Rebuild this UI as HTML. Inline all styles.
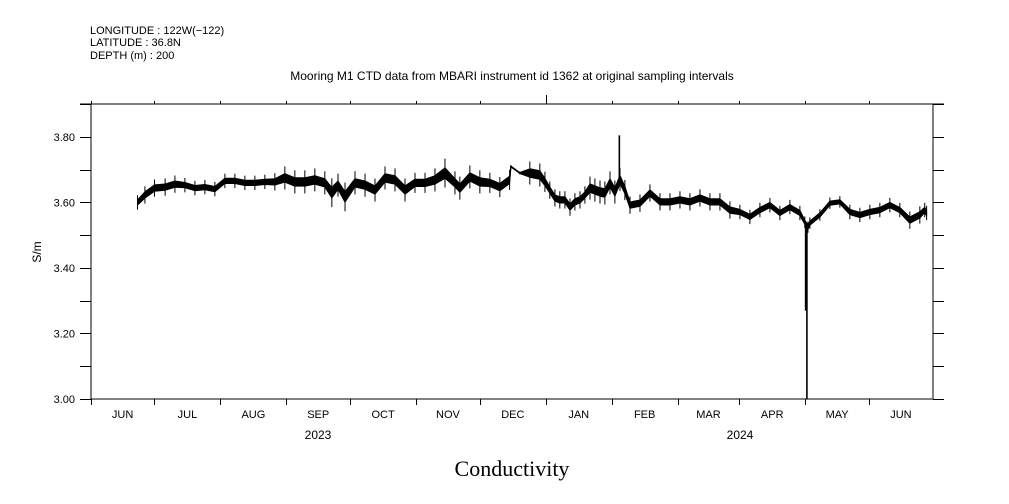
<!DOCTYPE html>
<html><head><meta charset="utf-8"><style>
html,body{margin:0;padding:0;background:#fff}
svg{display:block}
text{font-family:"Liberation Sans",sans-serif;fill:#000}
</style></head><body>
<svg id="chart" width="1009" height="504" xmlns="http://www.w3.org/2000/svg">
<g font-size="11">
<text x="90" y="34">LONGITUDE : 122W(−122)</text>
<text x="90" y="46">LATITUDE : 36.8N</text>
<text x="90" y="59">DEPTH (m) : 200</text>
</g>
<text x="512" y="80" font-size="12" text-anchor="middle">Mooring M1 CTD data from MBARI instrument id 1362 at original sampling intervals</text>
<text x="0" y="0" font-size="12" text-anchor="middle" transform="translate(41,252) rotate(-90)">S/m</text>
<text x="512" y="476" font-size="22" text-anchor="middle" style="font-family:'Liberation Serif',serif">Conductivity</text>
<g id="axes"></g>
<g id="series"></g>
</svg>
<script>
// Data: days since 2023-06-01, conductivity centre value, noise half-range
const days = [22,25.5,30,35,39.6,44.3,49,53.7,58.4,63.1,67.8,72.5,77.2,81.9,86.6,91.3,96,100.7,105.4,110.1,113.4,116.3,119.6,124.3,129,133.7,138.4,143.1,147.8,152.5,157.2,161.9,166.6,171.3,173.6,178.3,183,187.7,192.4,197,197.6,201.8,206.5,211.2,213.6,215.9,218.3,220.6,223,225.4,227.7,230.1,232.4,234.8,237.1,239.5,241.8,244.2,246.5,248.9,251.2,253.6,258.3,263,267.7,272.4,277.1,281.8,286.5,291.2,295.9,300.6,305.3,310,314.7,319.4,324.1,328.8,333.5,335.8,337.3,338.2,342.9,347.6,352.3,357,361.7,366.4,371.1,375.8,380.5,385.2,389.9,392.2,393.1];
const values = [3.600,3.623,3.644,3.647,3.656,3.653,3.644,3.647,3.641,3.666,3.666,3.660,3.660,3.663,3.663,3.675,3.663,3.663,3.669,3.660,3.630,3.653,3.617,3.660,3.653,3.638,3.675,3.669,3.638,3.660,3.660,3.669,3.690,3.660,3.644,3.678,3.663,3.660,3.647,3.669,3.710,3.690,3.690,3.684,3.663,3.638,3.614,3.608,3.608,3.586,3.602,3.608,3.623,3.644,3.638,3.632,3.629,3.660,3.632,3.670,3.638,3.592,3.598,3.629,3.602,3.602,3.608,3.602,3.614,3.602,3.602,3.577,3.571,3.556,3.577,3.592,3.568,3.586,3.568,3.540,3.525,3.537,3.562,3.598,3.602,3.571,3.562,3.571,3.577,3.592,3.577,3.546,3.562,3.577,3.568];
const noise = [0.010,0.012,0.012,0.012,0.012,0.010,0.010,0.010,0.010,0.010,0.010,0.010,0.010,0.010,0.012,0.016,0.016,0.016,0.016,0.016,0.020,0.016,0.020,0.016,0.016,0.016,0.016,0.016,0.016,0.014,0.014,0.016,0.020,0.016,0.016,0.016,0.016,0.014,0.014,0.014,0.002,0.002,0.016,0.016,0.014,0.012,0.012,0.012,0.012,0.012,0.012,0.012,0.012,0.016,0.016,0.016,0.016,0.016,0.016,0.016,0.014,0.012,0.012,0.012,0.012,0.012,0.012,0.012,0.012,0.012,0.012,0.012,0.010,0.010,0.010,0.010,0.010,0.010,0.010,0.008,0.008,0.008,0.008,0.008,0.008,0.010,0.010,0.010,0.010,0.010,0.010,0.012,0.012,0.010,0.010];
// isolated spikes
const spikeDays = [248.6, 336.2, 336.8];
const spikeFrom = [3.660, 3.540, 3.530];
const spikeTo = [3.805, 3.270, 3.000];
// axes
const yTicks = [3.0,3.1,3.2,3.3,3.4,3.5,3.6,3.7,3.8,3.9];
const yLabels = ["3.00","3.20","3.40","3.60","3.80"];
const monthStartDays = [0,30,61,92,122,153,183,214,245,276,305,336,366,397,427];
const monthNames = ["JUN","JUL","AUG","SEP","OCT","NOV","DEC","JAN","FEB","MAR","APR","MAY","JUN"];
const years = ["2023","2024"];

const NS="http://www.w3.org/2000/svg";
const X0=90.7, PXD=2.1265, Y0=399, PXU=327.5;
const L=91, R=933, T=104, B=399;
function xs(d){return X0+d*PXD;}
function ys(v){return Y0-(v-3.0)*PXU;}
function mk(tag,attrs,parent){const e=document.createElementNS(NS,tag);for(const k in attrs)e.setAttribute(k,attrs[k]);parent.appendChild(e);return e;}
const ax=document.getElementById('axes'), se=document.getElementById('series');
const st={stroke:'#000','stroke-width':1,fill:'none','shape-rendering':'crispEdges'};

let e=mk('rect',Object.assign({x:L,y:T,width:R-L,height:B-T},st),ax);


e=mk('line',Object.assign({x1:80,y1:T,x2:944,y2:T},st),ax);



yTicks.forEach((v,i)=>{
  const y=Math.round(ys(v))+0.5;
  if(y<T-1) return;
  let t=mk('line',Object.assign({x1:80,y1:y,x2:L,y2:y},st),ax);
  
  
  t=mk('line',Object.assign({x1:R,y1:y,x2:944,y2:y},st),ax);
  
  
});
yLabels.forEach(s=>{
  const t=mk('text',{x:75,y:ys(parseFloat(s))+4,'font-size':11,'text-anchor':'end'},ax);
  t.textContent=s;
  
  
});
monthStartDays.forEach((d,i)=>{
  const x=Math.round(xs(d))+0.5;
  if(x>R+2) return;
  let t=mk('line',Object.assign({x1:x,y1:B,x2:x,y2:B+6},st),ax);
  
  
  t=mk('line',Object.assign({x1:x,y1:T,x2:x,y2:(d===214?95:T-3)},st),ax);
  
  
});
monthNames.forEach((m,i)=>{
  const cx=(xs(monthStartDays[i])+xs(Math.min(monthStartDays[i+1],396)))/2;
  const t=mk('text',{x:cx,y:418,'font-size':11,'text-anchor':'middle'},ax);
  t.textContent=m;
  
  
});
[[years[0],318],[years[1],740]].forEach(([yv,x])=>{
  const t=mk('text',{x:x,y:439,'font-size':12,'text-anchor':'middle'},ax);
  t.textContent=yv;
  
  
});

// noise band
let up=[],dn=[];
for(let i=0;i<days.length;i++){
  up.push(xs(days[i]).toFixed(1)+','+ys(values[i]+0.8*noise[i]).toFixed(1));
  dn.unshift(xs(days[i]).toFixed(1)+','+ys(values[i]-0.8*noise[i]).toFixed(1));
}
e=mk('polygon',{points:up.concat(dn).join(' '),fill:'#000',stroke:'#000','stroke-width':1,'stroke-linejoin':'round'},se);


e=mk('polyline',{points:days.map((d,i)=>xs(d).toFixed(1)+','+ys(values[i]).toFixed(1)).join(' '),fill:'none',stroke:'#000','stroke-width':1.2},se);


// noise whiskers at each sample
days.forEach((d,i)=>{
  const w=mk('line',{x1:xs(d),y1:ys(values[i]+2.2*noise[i]),x2:xs(d),y2:ys(values[i]-2.2*noise[i]),stroke:'#000','stroke-width':1},se);
  
  
});
spikeDays.forEach((d,i)=>{
  const s=mk('line',{x1:xs(d),y1:ys(spikeFrom[i]),x2:xs(d),y2:ys(spikeTo[i]),stroke:'#000','stroke-width':1.6},se);
  
  
});
</script>
</body></html>
